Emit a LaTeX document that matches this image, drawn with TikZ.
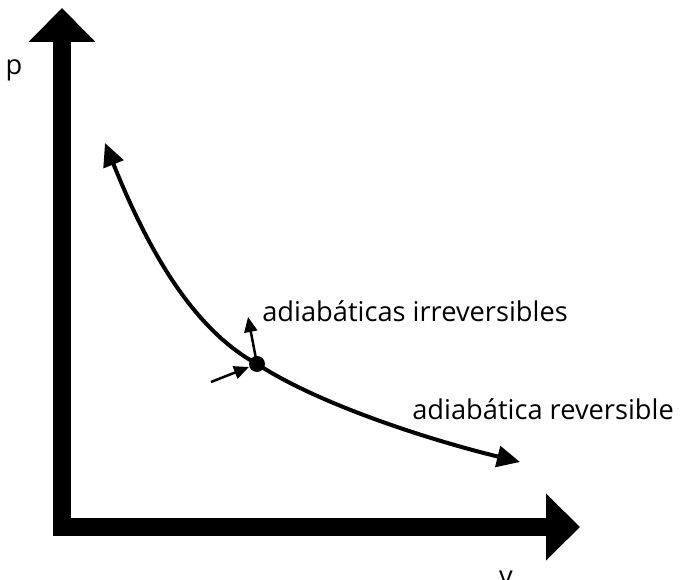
\documentclass[tikz,border=0pt]{standalone}
\usepackage{fontspec}
\setmainfont{Open Sans}
\usetikzlibrary{arrows.meta}

\begin{document}
\begin{tikzpicture}[x=0.02cm, y=-0.02cm, font=\fontsize{15.5}{18}\selectfont]

    \useasboundingbox (0,0) rectangle (681,580);

    % Axes
    \coordinate (ptop) at (62,8);
    \coordinate (origin) at (62,527);
    \coordinate (vend) at (580,527);
    \draw[line width=0.36cm, line join=miter,
          {Triangle[width=1.3cm, length=0.68cm]}-{Triangle[width=1.3cm, length=0.68cm]}]
        (ptop) -- (origin) -- (vend);

    \node[anchor=base, inner sep=0] (plabel) at (14,75) {p};
    \node[anchor=base, inner sep=0] (vlabel) at (506,586) {v};

    % State point
    \coordinate (start) at (105,143);
    \coordinate (finish) at (520,462);
    \fill (257,364) circle (8) coordinate (state);

    % Reversible adiabat
    \draw[line width=0.08cm, {Triangle[width=0.42cm, length=0.46cm]}-{Triangle[width=0.42cm, length=0.46cm]}]
        (start) .. controls (150,255) and (195,330) .. (state)
        .. controls (320,405) and (430,440) .. (finish);

    % Irreversible arrows
    \coordinate (up) at (248,317);
    \coordinate (push) at (211,382);
    \draw[line width=0.05cm, -{Triangle[width=0.26cm, length=0.3cm]}] (state) -- (up);
    \draw[line width=0.05cm, -{Triangle[width=0.26cm, length=0.3cm]}] (push) -- (249,367);

    % Labels
    \node[anchor=west, inner sep=0] (irrev) at (262,311) {adiabáticas irreversibles};
    \node[anchor=west, inner sep=0] (rev) at (412,409) {adiabática reversible};

\end{tikzpicture}
\end{document}
